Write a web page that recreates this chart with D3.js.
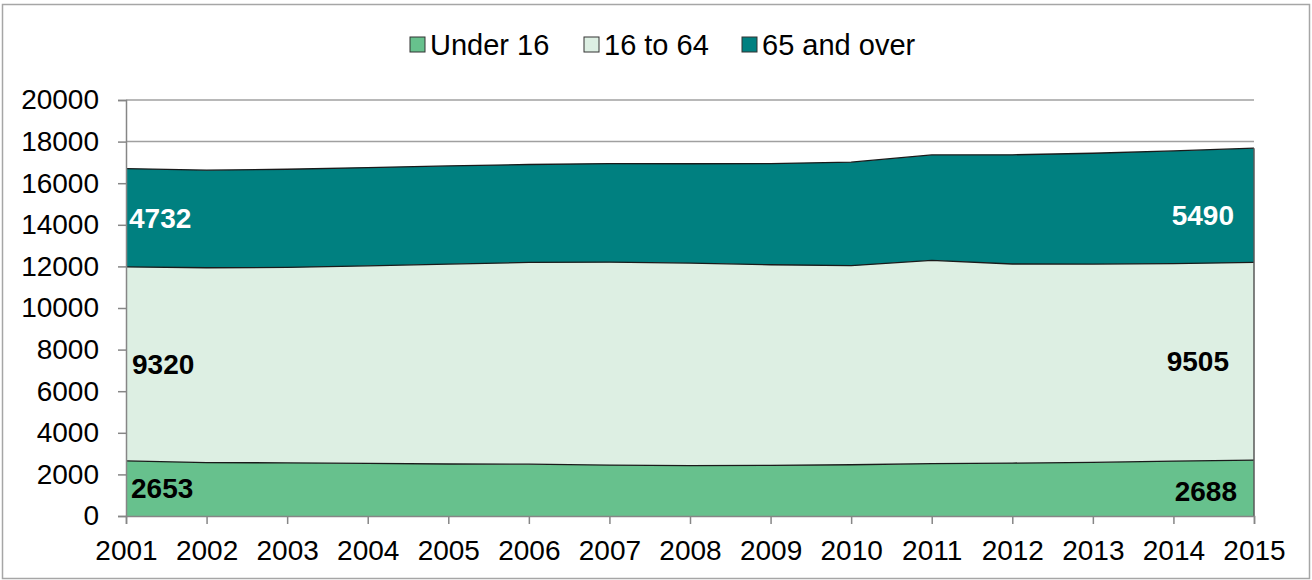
<!DOCTYPE html>
<html>
<head>
<meta charset="utf-8">
<script src="https://cdn.jsdelivr.net/npm/d3@7"></script>
<style>
  body { margin: 0; background: #fff; }
  text { font-family: "Liberation Sans", Arial, sans-serif; }
</style>
</head>
<body>
<div id="chart"></div>
<script>
// data
var years = [2001, 2002, 2003, 2004, 2005, 2006, 2007, 2008, 2009, 2010, 2011, 2012, 2013, 2014, 2015];
var under16 = [2653, 2570, 2555, 2530, 2500, 2490, 2450, 2420, 2435, 2465, 2515, 2545, 2575, 2640, 2688];
var age16to64 = [9320, 9365, 9395, 9500, 9610, 9700, 9755, 9740, 9645, 9570, 9775, 9570, 9535, 9490, 9505];
var over65 = [4732, 4690, 4720, 4720, 4720, 4710, 4740, 4775, 4865, 4975, 5070, 5250, 5330, 5420, 5490];
var seriesNames = ["Under 16", "16 to 64", "65 and over"];
var yTicks = [0, 2000, 4000, 6000, 8000, 10000, 12000, 14000, 16000, 18000, 20000];

var colors = ["#67c18d", "#ddefe3", "#008080"];
var labelColors = ["#000", "#000", "#fff"];

//dimensions and margins
var W = 1312, H = 580;
var margin = {top: 100, right: 58, bottom: 64, left: 126},
width = W - margin.left - margin.right,
height = H - margin.top - margin.bottom;

var svg = d3.select("#chart")
  .append("svg")
  .attr("width", W)
  .attr("height", H);

//outer border
svg.append("rect")
  .attr("x", 2.5).attr("y", 4.5)
  .attr("width", W - 5).attr("height", H - 6)
  .attr("fill", "none")
  .attr("stroke", "#a6a6a6")
  .attr("stroke-width", 1.5);

var g = svg.append("g")
  .attr("transform", "translate(" + margin.left + "," + margin.top + ")");

var x = d3.scaleLinear().domain([2001, 2015]).range([0, width]);
var y = d3.scaleLinear().domain([0, 20000]).range([height, 0]);

//gridlines
g.selectAll(".grid")
  .data(yTicks.slice(1))
  .enter().append("line")
  .attr("x1", 0).attr("x2", width)
  .attr("y1", function(d) { return y(d); })
  .attr("y2", function(d) { return y(d); })
  .attr("stroke", "#a0a0a0")
  .attr("stroke-width", 1.5);

//stack the series
var table = years.map(function(yr, i) {
  return {year: yr, "Under 16": under16[i], "16 to 64": age16to64[i], "65 and over": over65[i]};
});
var stack = d3.stack().keys(seriesNames)(table);

var area = d3.area()
  .x(function(d) { return x(d.data.year); })
  .y0(function(d) { return y(d[0]); })
  .y1(function(d) { return y(d[1]); });

g.selectAll(".layer")
  .data(stack)
  .enter().append("path")
  .attr("d", area)
  .attr("fill", function(d, i) { return colors[i]; });

//boundary lines
var topLine = d3.line()
  .x(function(d) { return x(d.data.year); })
  .y(function(d) { return y(d[1]); });

g.selectAll(".edge")
  .data(stack)
  .enter().append("path")
  .attr("d", topLine)
  .attr("fill", "none")
  .attr("stroke", "#1a1a1a")
  .attr("stroke-width", 1.3);

//right edge of plot
g.append("line")
  .attr("x1", width).attr("x2", width)
  .attr("y1", y(stack[2][stack[2].length - 1][1])).attr("y2", height)
  .attr("stroke", "#595959").attr("stroke-width", 1.5);

//y axis
var yAxis = g.append("g")
  .call(d3.axisLeft(y).tickValues(yTicks).tickSize(8).tickPadding(19).tickFormat(d3.format("d")));
yAxis.select(".domain").attr("stroke", "#868686").attr("stroke-width", 1.5);
yAxis.selectAll(".tick line").attr("stroke", "#868686").attr("stroke-width", 1.5);
yAxis.selectAll(".tick text").attr("font-size", "28px").attr("fill", "#000");

//x axis
var xAxis = g.append("g")
  .attr("transform", "translate(0," + height + ")")
  .call(d3.axisBottom(x).tickValues(years).tickSize(8).tickPadding(16).tickFormat(d3.format("d")));
xAxis.select(".domain").attr("stroke", "#868686").attr("stroke-width", 1.5);
xAxis.selectAll(".tick line").attr("stroke", "#868686").attr("stroke-width", 1.5);
xAxis.selectAll(".tick text").attr("font-size", "28px").attr("fill", "#000");

//value labels at both ends
var first = 0, last = years.length - 1;
var startDx = [5, 6, 3];
var endDx = [-17, -25, -20];
var startDy = [0, 0, 0];
var endDy = [3, 0, 10];
stack.forEach(function(s, i) {
  var a = s[first], b = s[last];
  g.append("text")
    .attr("x", x(a.data.year) + startDx[i])
    .attr("y", y((a[0] + a[1]) / 2) + startDy[i])
    .attr("dy", "0.36em")
    .attr("font-size", "28px").attr("font-weight", "bold")
    .attr("fill", labelColors[i])
    .text(a[1] - a[0]);
  g.append("text")
    .attr("x", x(b.data.year) + endDx[i])
    .attr("y", y((b[0] + b[1]) / 2) + endDy[i])
    .attr("dy", "0.36em")
    .attr("text-anchor", "end")
    .attr("font-size", "28px").attr("font-weight", "bold")
    .attr("fill", labelColors[i])
    .text(b[1] - b[0]);
});

//legend
var legendX = [410, 584, 742];
var legend = svg.selectAll(".legend")
  .data(seriesNames)
  .enter().append("g")
  .attr("transform", function(d, i) { return "translate(" + legendX[i] + ",37)"; });
legend.append("rect")
  .attr("width", 15).attr("height", 15)
  .attr("fill", function(d, i) { return colors[i]; })
  .attr("stroke", "#333").attr("stroke-width", 1);
legend.append("text")
  .attr("x", 20).attr("y", 7.5).attr("dy", "0.36em")
  .attr("font-size", "29px").attr("fill", "#000")
  .text(function(d) { return d; });
</script>
</body>
</html>
